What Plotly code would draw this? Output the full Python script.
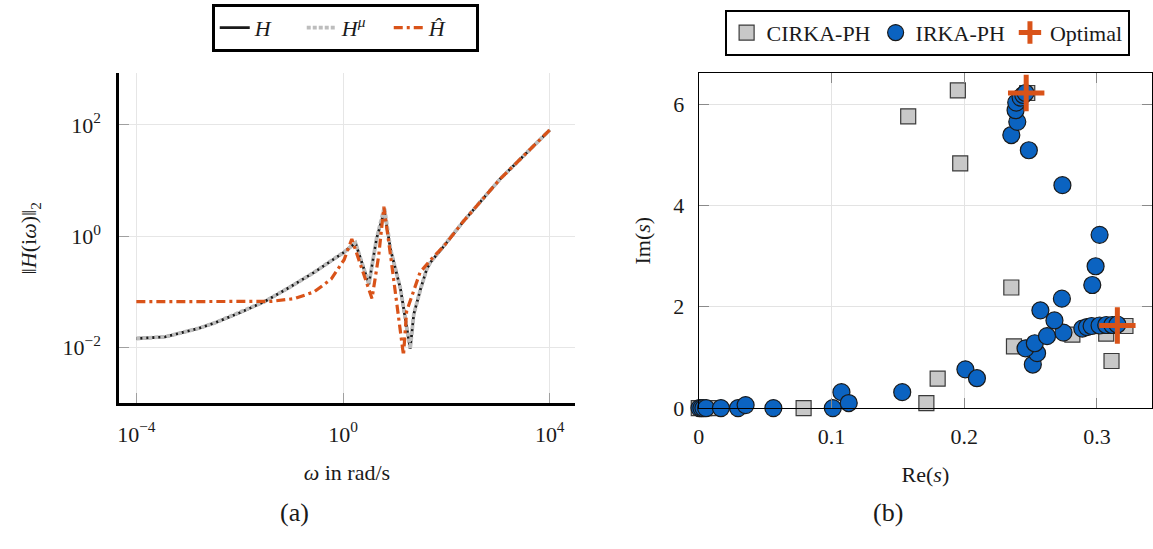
import plotly.graph_objects as go

# ---- frequency response data ----
omega_H = [1e-4, 3.6e-4, 7.6e-4, 1.6e-3, 3.3e-3, 1e-2, 0.030, 0.091, 0.275, 0.63,
           1.05, 1.74, 3.16, 4.47, 6.31, 8.32, 12.9, 19.95, 23.4, 31.6,
           41.7, 49.0, 87.1, 213.8, 1096.0, 1e4]
mag_H = [0.01455, 0.01560, 0.01862, 0.0222, 0.0278, 0.0423, 0.0668, 0.120, 0.224, 0.380,
         0.518, 0.759, 0.138, 0.923, 2.82, 0.575, 0.115, 0.00955, 0.0398, 0.112,
         0.257, 0.339, 0.646, 1.86, 10.7, 81.3]
mag_Hmu = [0.01455, 0.01560, 0.01862, 0.0222, 0.0278, 0.0423, 0.0668, 0.120, 0.224, 0.380,
           0.518, 0.759, 0.138, 0.923, 3.30, 0.575, 0.115, 0.00955, 0.0398, 0.112,
           0.257, 0.339, 0.646, 1.86, 10.7, 81.3]
omega_Hr = [1e-4, 1e-3, 1e-2, 0.041, 0.115, 0.275, 0.589, 1.05, 1.48, 2.75,
            3.63, 4.90, 6.17, 8.32, 10.96, 14.79, 16.98, 30.9, 49.0, 87.1,
            213.8, 1096.0, 1e4]
mag_Hr = [0.0668, 0.0668, 0.0668, 0.0676, 0.0759, 0.100, 0.170, 0.380, 0.891, 0.170,
          0.0759, 0.447, 3.39, 0.447, 0.0661, 0.00724, 0.0447, 0.224, 0.372, 0.646,
          1.86, 10.7, 81.3]

# ---- interpolation points in the complex plane ----
cirka_re = [0.0, 0.004, 0.009, 0.079, 0.1715, 0.180, 0.1578, 0.1952, 0.197, 0.2475,
            0.2355, 0.2375, 0.2815, 0.307, 0.3215, 0.311]
cirka_im = [0.0, 0.0, 0.0, 0.0, 0.10, 0.58, 5.76, 6.27, 4.83, 6.22,
            2.38, 1.22, 1.45, 1.47, 1.62, 0.93]
irka_re = [0.0005, 0.002, 0.0035, 0.0055, 0.0167, 0.0296, 0.0353, 0.0562, 0.101, 0.1075,
           0.113, 0.1533, 0.2009, 0.2096, 0.2517, 0.2549, 0.2462, 0.2532, 0.2624, 0.2748,
           0.268, 0.2574, 0.2736, 0.2965, 0.299, 0.302, 0.274, 0.2487, 0.2355, 0.240,
           0.2387, 0.2392, 0.2425, 0.2445, 0.2462, 0.289, 0.2925, 0.296, 0.302, 0.307,
           0.3115, 0.3154]
irka_im = [0.0, 0.0, 0.0, 0.0, 0.0, 0.0, 0.06, 0.0, 0.0, 0.315,
           0.10, 0.315, 0.765, 0.59, 0.86, 1.085, 1.18, 1.28, 1.42, 1.49,
           1.73, 1.93, 2.16, 2.43, 2.80, 3.42, 4.40, 5.09, 5.39, 5.65,
           5.88, 6.03, 6.13, 6.18, 6.22, 1.57, 1.60, 1.62, 1.63, 1.64,
           1.64, 1.65]
opt_re = [0.2467, 0.3154]
opt_im = [6.22, 1.63]

x_ticks_a = [1e-4, 1e0, 1e4]
x_ticktext_a = ["10<sup>\u22124</sup>", "10<sup>0</sup>", "10<sup>4</sup>"]
y_ticks_a = [1e-2, 1e0, 1e2]
y_ticktext_a = ["10<sup>\u22122</sup>", "10<sup>0</sup>", "10<sup>2</sup>"]
x_ticks_b = [0, 0.1, 0.2, 0.3]
x_ticktext_b = ["0", "0.1", "0.2", "0.3"]
y_ticks_b = [0, 2, 4, 6]

SERIF = "Liberation Serif, DejaVu Serif, Times New Roman, serif"
ORANGE = "#D95319"
W, Hpx = 1153, 549
FS = 22


def px_x(p):
    return p / W


def px_y(p):
    return 1 - p / Hpx


fig = go.Figure()

fig.add_trace(go.Scatter(x=omega_H, y=mag_H, mode="lines", name="<i>H</i>",
                         line=dict(color="#1a1a1a", width=2.8),
                         xaxis="x", yaxis="y", legend="legend"))
fig.add_trace(go.Scatter(x=omega_H, y=mag_Hmu, mode="lines",
                         name="<i>H</i><sup><i>\u03bc</i></sup>",
                         line=dict(color="#bdbdbd", width=3.8, dash="4px,2px"),
                         xaxis="x", yaxis="y", legend="legend"))
fig.add_trace(go.Scatter(x=omega_Hr, y=mag_Hr, mode="lines", name="<i>H\u0302</i>",
                         line=dict(color=ORANGE, width=3.2, dash="9px,4px,3px,4px"),
                         xaxis="x", yaxis="y", legend="legend"))

fig.add_trace(go.Scatter(x=cirka_re, y=cirka_im, mode="markers", name="CIRKA-PH",
                         marker=dict(symbol="square", size=15, color="#c8c8c8",
                                     line=dict(color="#3a3a3a", width=1.2)),
                         cliponaxis=False, xaxis="x2", yaxis="y2", legend="legend2"))
fig.add_trace(go.Scatter(x=irka_re, y=irka_im, mode="markers", name="IRKA-PH",
                         marker=dict(symbol="circle", size=17, color="#0b63c1",
                                     line=dict(color="#1a1a1a", width=1.2)),
                         cliponaxis=False, xaxis="x2", yaxis="y2", legend="legend2"))
fig.add_trace(go.Scatter(x=opt_re, y=opt_im, mode="markers", name="Optimal",
                         marker=dict(symbol="cross-thin", size=26, color=ORANGE,
                                     line=dict(color=ORANGE, width=5)),
                         cliponaxis=False, xaxis="x2", yaxis="y2", legend="legend2"))

tickfont = dict(family=SERIF, size=FS, color="#1a1a1a")
titlefont = dict(family=SERIF, size=FS, color="#1a1a1a")

fig.update_layout(
    width=W, height=Hpx, autosize=False,
    margin=dict(l=0, r=0, t=0, b=0),
    paper_bgcolor="white", plot_bgcolor="white",
    font=dict(family=SERIF, size=FS, color="#1a1a1a"),
    xaxis=dict(type="log", domain=[px_x(114), px_x(572)], range=[-4.33, 4.48],
               anchor="y", tickmode="array", tickvals=x_ticks_a, ticktext=x_ticktext_a,
               ticks="inside", ticklen=10, tickcolor="#a0a0a0", tickwidth=1.2,
               ticklabelstandoff=9,
               showgrid=True, gridcolor="#e6e6e6", gridwidth=1,
               showline=True, linecolor="black", linewidth=3, mirror=False,
               zeroline=False, tickfont=tickfont,
               title=dict(text="<i>\u03c9</i> in rad/s", standoff=19, font=titlefont)),
    yaxis=dict(type="log", domain=[px_y(413), px_y(75)], range=[-3, 2.93],
               anchor="x", tickmode="array", tickvals=y_ticks_a, ticktext=y_ticktext_a,
               ticks="inside", ticklen=10, tickcolor="#a0a0a0", tickwidth=1.2,
               ticklabelstandoff=11,
               showgrid=True, gridcolor="#e6e6e6", gridwidth=1,
               showline=True, linecolor="black", linewidth=3, mirror=False,
               zeroline=False, tickfont=tickfont,
               title=dict(text="\u2016<i>H</i>(i<i>\u03c9</i>)\u2016<sub>2</sub>",
                          standoff=20, font=titlefont)),
    xaxis2=dict(domain=[px_x(697), 1.0], range=[0, 0.3415], anchor="y2",
                tickmode="array", tickvals=x_ticks_b, ticktext=x_ticktext_b,
                ticks="inside", ticklen=10, tickcolor="#8a8a8a", tickwidth=1.2,
                ticklabelstandoff=8,
                showgrid=True, gridcolor="#e3e3e3", gridwidth=1,
                showline=True, linecolor="black", linewidth=1.2, mirror="ticks",
                zeroline=False, tickfont=tickfont,
                title=dict(text="Re(<i>s</i>)", standoff=18, font=titlefont)),
    yaxis2=dict(domain=[px_y(418), px_y(75)], range=[0, 6.61], anchor="x2",
                tickmode="array", tickvals=y_ticks_b,
                ticks="inside", ticklen=10, tickcolor="#8a8a8a", tickwidth=1.2,
                ticklabelstandoff=9,
                showgrid=True, gridcolor="#e3e3e3", gridwidth=1,
                showline=True, linecolor="black", linewidth=1.2, mirror="ticks",
                zeroline=False, tickfont=tickfont,
                title=dict(text="Im(<i>s</i>)", standoff=16, font=titlefont)),
    legend=dict(orientation="h", x=px_x(207), y=px_y(4), xanchor="left", yanchor="top",
                bgcolor="white", bordercolor="black", borderwidth=3,
                entrywidth=42, entrywidthmode="pixels",
                font=dict(family=SERIF, size=FS), tracegroupgap=0),
    legend2=dict(orientation="h", x=px_x(723), y=px_y(10), xanchor="left", yanchor="top",
                 bgcolor="white", bordercolor="black", borderwidth=2,
                 font=dict(family=SERIF, size=FS), tracegroupgap=0),
    showlegend=True,
    annotations=[
        dict(text="(a)", x=px_x(290), y=px_y(525), xref="paper", yref="paper",
             xanchor="center", yanchor="middle",
             showarrow=False, font=dict(family=SERIF, size=26)),
        dict(text="(b)", x=px_x(887), y=px_y(525), xref="paper", yref="paper",
             xanchor="center", yanchor="middle",
             showarrow=False, font=dict(family=SERIF, size=26)),
    ],
)

fig.write_html("out.html")
